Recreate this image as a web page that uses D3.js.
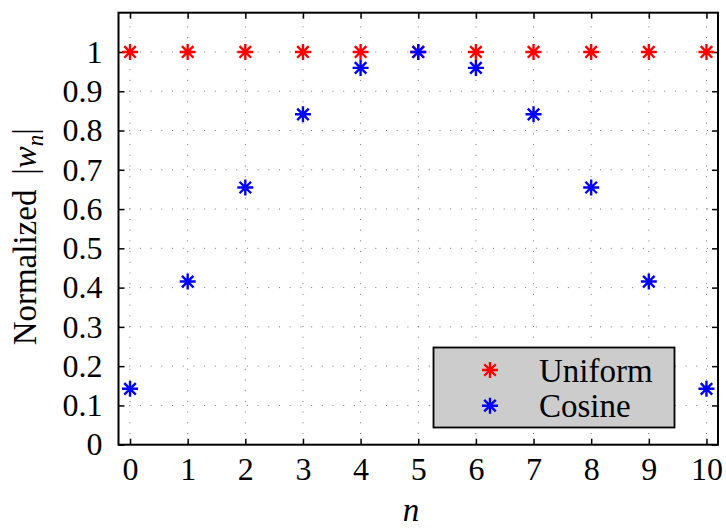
<!DOCTYPE html>
<html>
<head>
<meta charset="utf-8">
<script src="https://cdn.jsdelivr.net/npm/d3@7"></script>
<style>
  html, body { margin: 0; padding: 0; background: #fff; }
  svg { display: block; font-family: "Liberation Serif", "DejaVu Serif", serif; }
</style>
</head>
<body>
<svg id="chart" width="726" height="529"></svg>
<script>
// Element index n
const nValues = [0, 1, 2, 3, 4, 5, 6, 7, 8, 9, 10];
// Normalized weights |w_n|
const uniformWeights = [1, 1, 1, 1, 1, 1, 1, 1, 1, 1, 1];
const cosineWeights = [0.1423, 0.4154, 0.6549, 0.8413, 0.9595, 1, 0.9595, 0.8413, 0.6549, 0.4154, 0.1423];
// Tick labels
const xTicks = [0, 1, 2, 3, 4, 5, 6, 7, 8, 9, 10];
const yTicks = [0, 0.1, 0.2, 0.3, 0.4, 0.5, 0.6, 0.7, 0.8, 0.9, 1];
const seriesNames = ["Uniform", "Cosine"];
const seriesColors = ["#ff0000", "#0000ff"];

const svg = d3.select("#chart");
const L = 118.5, R = 718, T = 12.7, B = 444.7;
const FONT = "Liberation Serif, DejaVu Serif, serif";

const x = d3.scaleLinear().domain([-0.2, 10.2]).range([L, R]);
const y = d3.scaleLinear().domain([0, 1.1]).range([B, T]);

// dotted grid
const grid = svg.append("g").attr("stroke", "#777").attr("stroke-width", 1)
  .attr("stroke-dasharray", "1,9.7");
grid.selectAll("line.gx").data(xTicks).join("line")
  .attr("x1", d => x(d)).attr("x2", d => x(d))
  .attr("y1", B).attr("y2", T);
grid.selectAll("line.gy").data(yTicks.slice(1)).join("line")
  .attr("x1", L).attr("x2", R)
  .attr("y1", d => y(d)).attr("y2", d => y(d));

// axes with inward ticks
const fmt = d => d3.format("~g")(d);
const tickLen = 6;
const bottomAxis = svg.append("g").attr("transform", `translate(0,${B})`)
  .call(d3.axisBottom(x).tickValues(xTicks).tickSize(-tickLen).tickPadding(13).tickFormat(fmt));
const topAxis = svg.append("g").attr("transform", `translate(0,${T})`)
  .call(d3.axisTop(x).tickValues(xTicks).tickSize(-tickLen).tickFormat(""));
const leftAxis = svg.append("g").attr("transform", `translate(${L},0)`)
  .call(d3.axisLeft(y).tickValues(yTicks).tickSize(-tickLen).tickPadding(16).tickFormat(fmt));
const rightAxis = svg.append("g").attr("transform", `translate(${R},0)`)
  .call(d3.axisRight(y).tickValues(yTicks).tickSize(-tickLen).tickFormat(""));

[bottomAxis, topAxis, leftAxis, rightAxis].forEach(a => {
  a.attr("font-family", FONT).attr("font-size", 32);
  a.select(".domain").remove();
  a.selectAll(".tick line").attr("stroke", "#000").attr("stroke-width", 1.5);
  a.selectAll("text").attr("fill", "#000");
});
bottomAxis.selectAll("text").attr("dy", "0.71em");

// box
svg.append("rect").attr("x", L).attr("y", T).attr("width", R - L).attr("height", B - T)
  .attr("fill", "none").attr("stroke", "#000").attr("stroke-width", 2);

// asterisk marker
const asterisk = {
  draw(ctx, size) {
    const r = Math.sqrt(size) / 2;
    const d = r * 0.72;
    ctx.moveTo(-r, 0); ctx.lineTo(r, 0);
    ctx.moveTo(0, -r); ctx.lineTo(0, r);
    ctx.moveTo(-d, -d); ctx.lineTo(d, d);
    ctx.moveTo(-d, d); ctx.lineTo(d, -d);
  }
};
const markerPath = d3.symbol().type(asterisk).size(16 * 16)();

const series = [uniformWeights, cosineWeights];
series.forEach((vals, i) => {
  svg.append("g").selectAll("path").data(nValues).join("path")
    .attr("transform", (d, j) => `translate(${x(d)},${y(vals[j])})`)
    .attr("d", markerPath)
    .attr("fill", "none").attr("stroke", seriesColors[i]).attr("stroke-width", 2.4);
});

// legend
const lg = svg.append("g");
lg.append("rect").attr("x", 433.5).attr("y", 347.5).attr("width", 241).attr("height", 80)
  .attr("fill", "#cccccc").attr("stroke", "#000").attr("stroke-width", 1.8);
const legendRows = [370, 405.7];
seriesNames.forEach((name, i) => {
  lg.append("path").attr("transform", `translate(490,${legendRows[i]})`)
    .attr("d", markerPath).attr("fill", "none")
    .attr("stroke", seriesColors[i]).attr("stroke-width", 2.4);
  lg.append("text").attr("x", 539).attr("y", legendRows[i]).attr("dy", "0.35em")
    .attr("font-family", FONT).attr("font-size", 33).attr("fill", "#000").text(name);
});

// axis labels
svg.append("text").attr("x", 411).attr("y", 521).attr("text-anchor", "middle")
  .attr("font-family", FONT).attr("font-size", 33).attr("font-style", "italic").text("n");

const yl = svg.append("text")
  .attr("transform", `translate(36,236.7) rotate(-90)`)
  .attr("text-anchor", "middle").attr("font-family", FONT).attr("font-size", 33);
yl.append("tspan").text("Normalized\u00a0\u2009|");
yl.append("tspan").attr("font-style", "italic").text("w");
yl.append("tspan").attr("font-style", "italic").attr("font-size", 23).attr("dy", 7).text("n");
yl.append("tspan").attr("dy", -7).text("|");
</script>
</body>
</html>
